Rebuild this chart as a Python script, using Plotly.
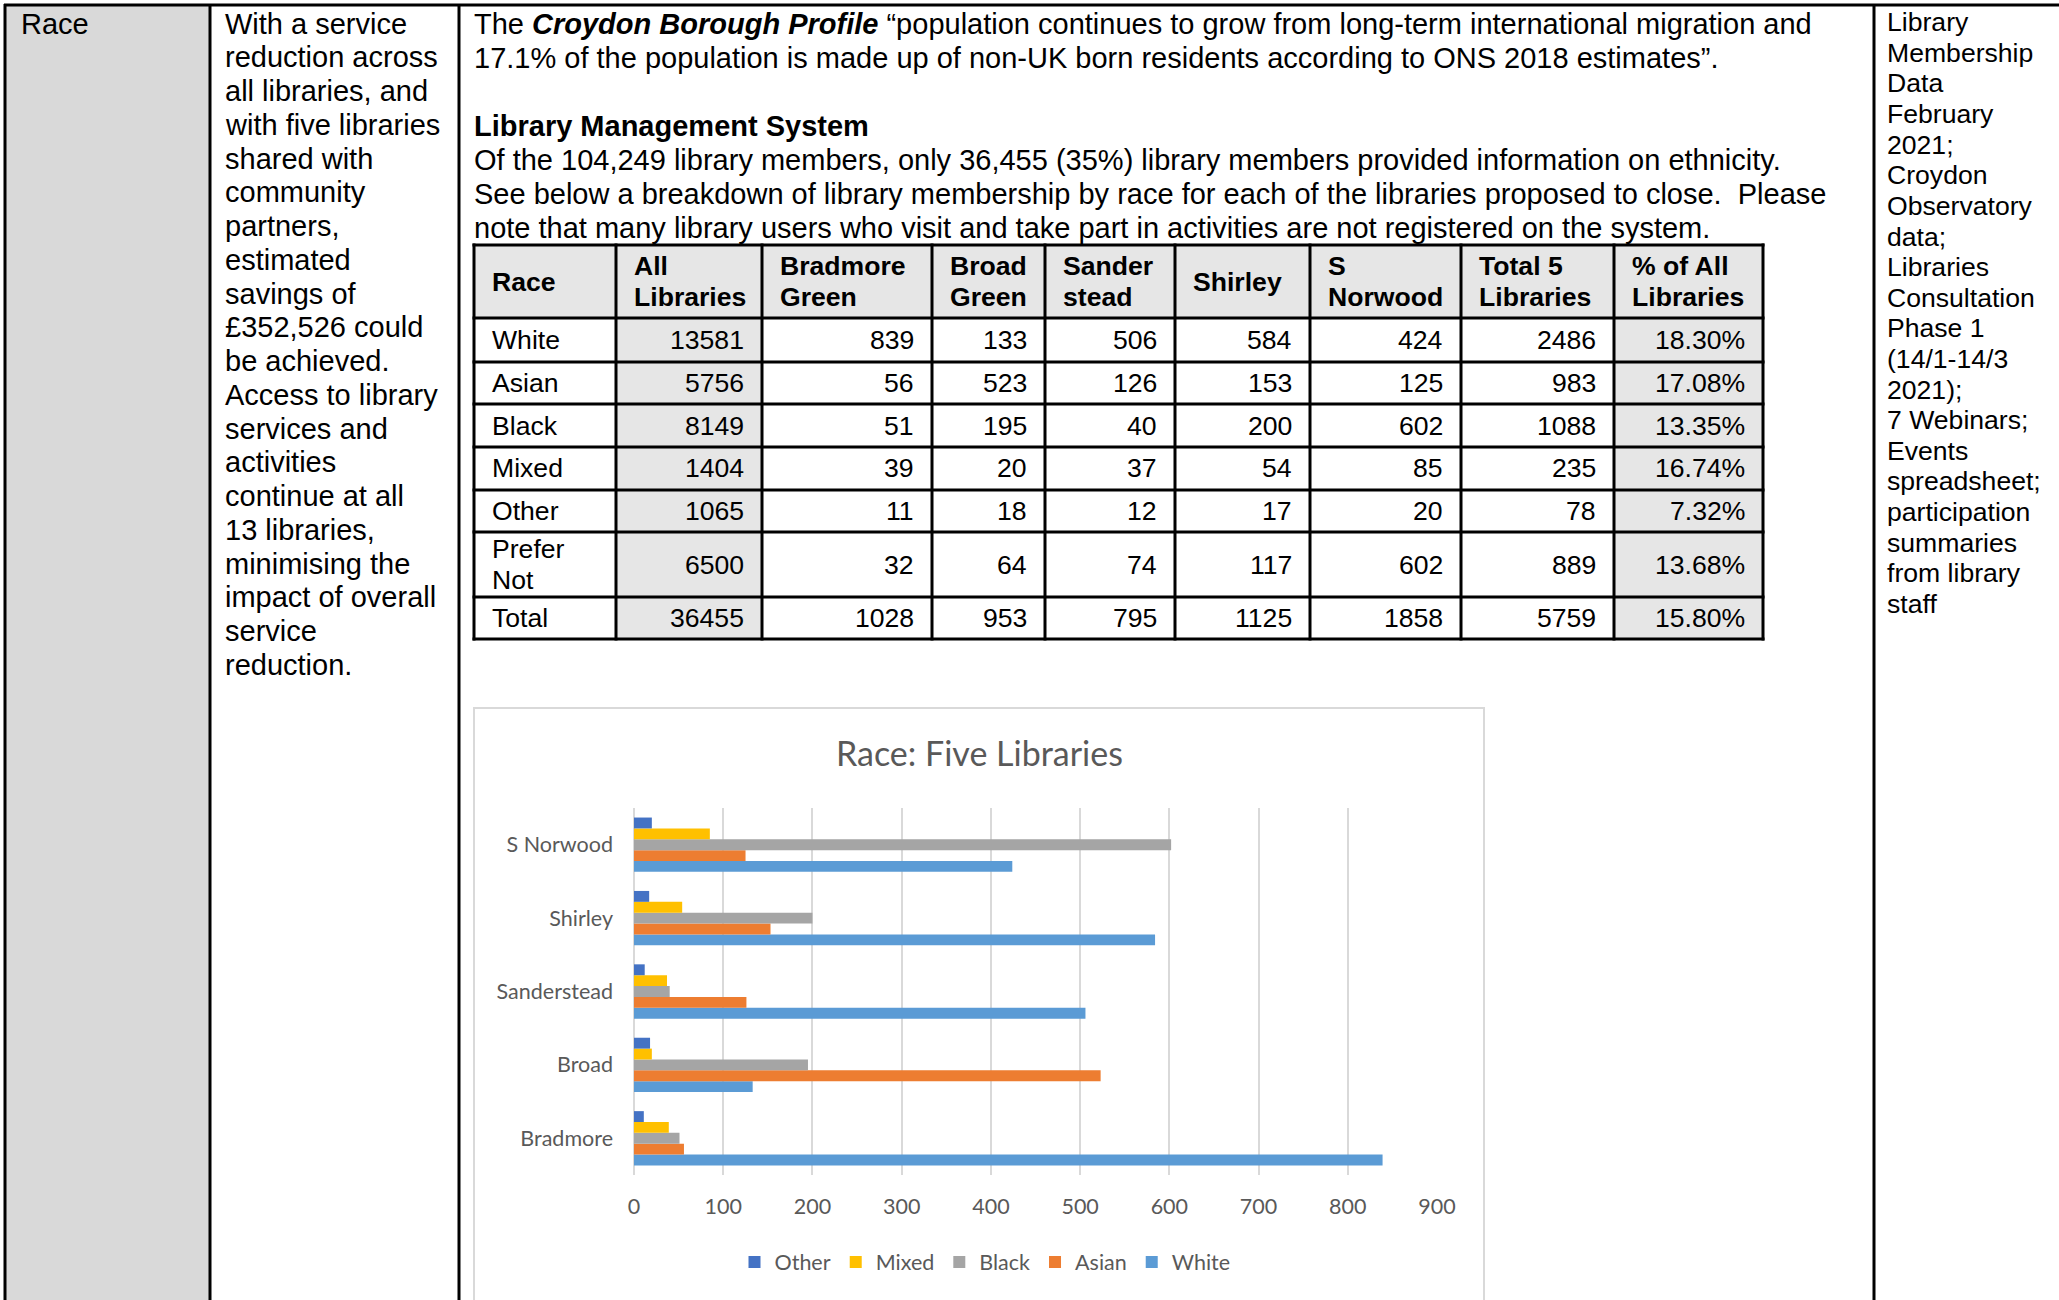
import plotly.graph_objects as go

W, H = 2059, 1300


def X(px):
    return px / W


def Y(py):
    return 1 - py / H


# ---------------- Chart data ----------------
libraries = ["Bradmore", "Broad", "Sanderstead", "Shirley", "S Norwood"]
white = [839, 133, 506, 584, 424]
asian = [56, 523, 126, 153, 125]
black = [51, 195, 40, 200, 602]
mixed = [39, 20, 37, 54, 85]
other = [11, 18, 12, 17, 20]
series_names = ["White", "Asian", "Black", "Mixed", "Other"]
series_values = [white, asian, black, mixed, other]
series_colors = ["#5B9BD5", "#ED7D31", "#A5A5A5", "#FFC000", "#4472C4"]
x_tick_values = [0, 100, 200, 300, 400, 500, 600, 700, 800, 900]
chart_title = "Race: Five Libraries"

# ---------------- Table data ----------------
table_headers = [["Race"], ["All", "Libraries"], ["Bradmore", "Green"], ["Broad", "Green"],
                 ["Sander", "stead"], ["Shirley"], ["S", "Norwood"], ["Total 5", "Libraries"],
                 ["% of All", "Libraries"]]
race_labels = [["White"], ["Asian"], ["Black"], ["Mixed"], ["Other"], ["Prefer", "Not"], ["Total"]]
all_libraries = [13581, 5756, 8149, 1404, 1065, 6500, 36455]
bradmore_green = [839, 56, 51, 39, 11, 32, 1028]
broad_green = [133, 523, 195, 20, 18, 64, 953]
sander_stead = [506, 126, 40, 37, 12, 74, 795]
shirley_col = [584, 153, 200, 54, 17, 117, 1125]
s_norwood_col = [424, 125, 602, 85, 20, 602, 1858]
total_5 = [2486, 983, 1088, 235, 78, 889, 5759]
pct_of_all = ["18.30%", "17.08%", "13.35%", "16.74%", "7.32%", "13.68%", "15.80%"]

# ---------------- Document text ----------------
col1_text = ["Race"]
col2_text = ["With a service", "reduction across", "all libraries, and", "with five libraries",
             "shared with", "community", "partners,", "estimated", "savings of",
             "£352,526 could", "be achieved.", "Access to library", "services and",
             "activities", "continue at all", "13 libraries,", "minimising the",
             "impact of overall", "service", "reduction."]
col3_text = [
    "The <b><i>Croydon Borough Profile</i></b> “population continues to grow from long-term international migration and",
    "17.1% of the population is made up of non-UK born residents according to ONS 2018 estimates”.",
    "",
    "<b>Library Management System</b>",
    "Of the 104,249 library members, only 36,455 (35%) library members provided information on ethnicity.",
    "See below a breakdown of library membership by race for each of the libraries proposed to close.  Please",
    "note that many library users who visit and take part in activities are not registered on the system.",
]
col4_text = ["Library", "Membership", "Data", "February", "2021;", "Croydon", "Observatory",
             "data;", "Libraries", "Consultation", "Phase 1", "(14/1-14/3", "2021);",
             "7 Webinars;", "Events", "spreadsheet;", "participation", "summaries",
             "from library", "staff"]

DOC_FONT = "Liberation Sans, Arial, sans-serif"
CHART_FONT = "Lato, Calibri, sans-serif"
CHART_TEXT = "#595959"

fig = go.Figure()

# ---------------- Bar chart ----------------
for name, vals, col in zip(series_names, series_values, series_colors):
    fig.add_trace(go.Bar(
        y=libraries, x=vals, name=name, orientation="h",
        marker=dict(color=col, line=dict(width=0)),
    ))

shapes = []
annotations = []

# Outer document table
shapes.append(dict(type="rect", xref="paper", yref="paper", x0=X(5), x1=X(210), y0=Y(5), y1=Y(1310),
                   fillcolor="#D9D9D9", line=dict(width=0), layer="below"))
for xv in [5, 210, 459, 1874]:
    shapes.append(dict(type="line", xref="paper", yref="paper", x0=X(xv), x1=X(xv), y0=Y(4), y1=Y(1310),
                       line=dict(color="black", width=3)))
shapes.append(dict(type="line", xref="paper", yref="paper", x0=X(4), x1=X(2070), y0=Y(5), y1=Y(5),
                   line=dict(color="black", width=3)))


# Column texts
def add_lines(lines, x, y0, dy, size, bold=False):
    for i, t in enumerate(lines):
        if not t:
            continue
        annotations.append(dict(
            xref="paper", yref="paper", x=X(x), y=Y(y0 + dy * i), xanchor="left", yanchor="middle",
            text=("<b>%s</b>" % t) if bold else t, showarrow=False,
            font=dict(family=DOC_FONT, size=size, color="black"),
        ))


add_lines(col1_text, 19, 23.6, 33.75, 29)
add_lines(col2_text, 223, 23.6, 33.75, 29)
add_lines(col3_text, 472, 23.6, 34.0, 29)
add_lines(col4_text, 1885, 22.3, 30.6, 26.6)

# Inner data table
col_edges = [474, 616, 762, 932, 1045, 1175, 1310, 1461, 1614, 1763]
row_edges = [245, 318, 362, 404, 447, 490, 532, 597, 639]
GRAY = "#E6E6E6"
data_columns = [all_libraries, bradmore_green, broad_green, sander_stead, shirley_col,
                s_norwood_col, total_5, pct_of_all]
shaded_cols = {1, 8}

# fills
shapes.append(dict(type="rect", xref="paper", yref="paper", x0=X(col_edges[0]), x1=X(col_edges[-1]),
                   y0=Y(row_edges[0]), y1=Y(row_edges[1]), fillcolor=GRAY, line=dict(width=0), layer="below"))
for c in shaded_cols:
    shapes.append(dict(type="rect", xref="paper", yref="paper", x0=X(col_edges[c]), x1=X(col_edges[c + 1]),
                       y0=Y(row_edges[1]), y1=Y(row_edges[-1]), fillcolor=GRAY, line=dict(width=0),
                       layer="below"))
# borders
for xv in col_edges:
    shapes.append(dict(type="line", xref="paper", yref="paper", x0=X(xv), x1=X(xv),
                       y0=Y(row_edges[0] - 1.5), y1=Y(row_edges[-1] + 1.5), line=dict(color="black", width=3)))
for yv in row_edges:
    shapes.append(dict(type="line", xref="paper", yref="paper", x0=X(col_edges[0] - 1.5), x1=X(col_edges[-1] + 1.5),
                       y0=Y(yv), y1=Y(yv), line=dict(color="black", width=3)))

PAD = 16
TLINE = 31.4
TSIZE = 26.6


def cell_lines(lines, ci, ri, align, bold=False):
    yc = (row_edges[ri] + row_edges[ri + 1]) / 2
    n = len(lines)
    for k, t in enumerate(lines):
        yy = yc + (k - (n - 1) / 2) * TLINE
        if align == "left":
            xx, xa = col_edges[ci] + PAD, "left"
        else:
            xx, xa = col_edges[ci + 1] - PAD, "right"
        annotations.append(dict(
            xref="paper", yref="paper", x=X(xx), y=Y(yy), xanchor=xa, yanchor="middle",
            text=("<b>%s</b>" % t) if bold else str(t), showarrow=False,
            font=dict(family=DOC_FONT, size=TSIZE, color="black"),
        ))


for ci, hdr in enumerate(table_headers):
    cell_lines(hdr, ci, 0, "left", bold=True)
for ri, lab in enumerate(race_labels):
    cell_lines(lab, 0, ri + 1, "left")
    for ci, colvals in enumerate(data_columns):
        cell_lines([colvals[ri]], ci + 1, ri + 1, "right")

# Chart frame
shapes.append(dict(type="rect", xref="paper", yref="paper", x0=X(474), x1=X(1484), y0=Y(708), y1=Y(1320),
                   line=dict(color="#D9D9D9", width=2), fillcolor="rgba(0,0,0,0)", layer="below"))

# Chart title
annotations.append(dict(xref="paper", yref="paper", x=X(979), y=Y(752), xanchor="center", yanchor="middle",
                        text=chart_title, showarrow=False,
                        font=dict(family=CHART_FONT, size=34, color=CHART_TEXT)))

fig.update_layout(
    width=W, height=H, autosize=False,
    margin=dict(l=0, r=0, t=0, b=0, pad=0, autoexpand=False),
    paper_bgcolor="white", plot_bgcolor="rgba(0,0,0,0)",
    barmode="group", bargap=0.26, bargroupgap=0,
    shapes=shapes, annotations=annotations,
    showlegend=True,
    legend=dict(orientation="h", x=X(985), xanchor="center", y=Y(1262), yanchor="middle",
                traceorder="reversed", font=dict(family=CHART_FONT, size=21.5, color=CHART_TEXT),
                bgcolor="rgba(0,0,0,0)", itemclick=False, itemdoubleclick=False),
    xaxis=dict(domain=[X(634), X(1437)], range=[0, 900], tickvals=x_tick_values,
               showgrid=True, gridcolor="#D9D9D9", gridwidth=1.5,
               zeroline=True, zerolinecolor="#D9D9D9", zerolinewidth=1.5,
               showline=False, ticks="", ticklabelstandoff=16, automargin=False,
               tickfont=dict(family=CHART_FONT, size=21.5, color=CHART_TEXT), fixedrange=True),
    yaxis=dict(domain=[Y(1175), Y(808)], categoryorder="array", categoryarray=libraries,
               showgrid=False, zeroline=False, showline=False, ticks="", ticklabelstandoff=20,
               automargin=False,
               tickfont=dict(family=CHART_FONT, size=21.5, color=CHART_TEXT), fixedrange=True),
)

fig.write_html("out.html", include_plotlyjs=True, full_html=True,
               config={"displayModeBar": False},
               post_script="document.body.style.margin='0';document.body.style.overflow='hidden';")
